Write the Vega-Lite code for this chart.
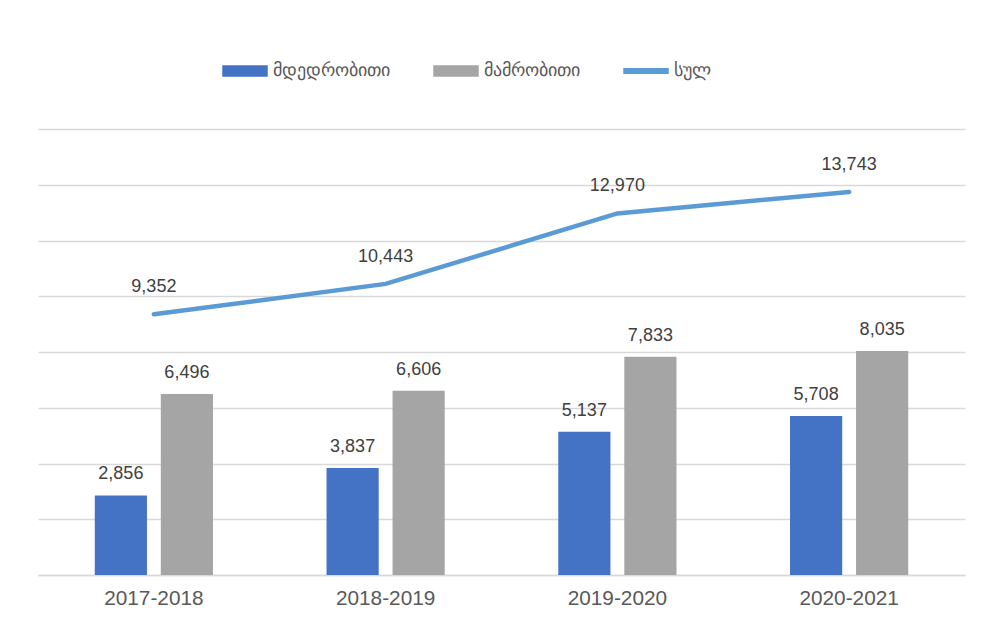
{
  "$schema": "https://vega.github.io/schema/vega-lite/v6.json",
  "width": 927,
  "height": 446,
  "autosize": "none",
  "padding": {"left": 38, "top": 129, "right": 17, "bottom": 62},
  "background": "white",
  "config": {
    "font": "Liberation Sans",
    "view": {"stroke": null},
    "axis": {"domainColor": "#d9d9d9", "gridColor": "#d9d9d9"}
  },
  "data": {
    "values": [
      {"year": "2017-2018", "series": "მდედრობითი", "value": 2856},
      {"year": "2017-2018", "series": "მამრობითი", "value": 6496},
      {"year": "2017-2018", "series": "სულ", "value": 9352},
      {"year": "2018-2019", "series": "მდედრობითი", "value": 3837},
      {"year": "2018-2019", "series": "მამრობითი", "value": 6606},
      {"year": "2018-2019", "series": "სულ", "value": 10443},
      {"year": "2019-2020", "series": "მდედრობითი", "value": 5137},
      {"year": "2019-2020", "series": "მამრობითი", "value": 7833},
      {"year": "2019-2020", "series": "სულ", "value": 12970},
      {"year": "2020-2021", "series": "მდედრობითი", "value": 5708},
      {"year": "2020-2021", "series": "მამრობითი", "value": 8035},
      {"year": "2020-2021", "series": "სულ", "value": 13743}
    ]
  },
  "encoding": {
    "x": {
      "field": "year",
      "type": "nominal",
      "title": null,
      "scale": {"paddingInner": 0.49, "paddingOuter": 0.245},
      "axis": {
        "labelAngle": 0,
        "ticks": false,
        "labelFontSize": 20.8,
        "labelColor": "#595959",
        "labelPadding": 13,
        "domainColor": "#d9d9d9",
        "domainWidth": 1.5
      }
    },
    "y": {
      "field": "value",
      "type": "quantitative",
      "title": null,
      "scale": {"domain": [0, 16000], "nice": false},
      "axis": {
        "labels": false,
        "ticks": false,
        "domain": false,
        "grid": true,
        "values": [0, 2000, 4000, 6000, 8000, 10000, 12000, 14000, 16000],
        "gridColor": "#d9d9d9",
        "gridWidth": 1.5
      }
    }
  },
  "layer": [
    {
      "transform": [{"filter": "datum.series !== 'სულ'"}],
      "mark": {"type": "bar"},
      "encoding": {
        "xOffset": {
          "field": "series",
          "type": "nominal",
          "sort": ["მდედრობითი", "მამრობითი"],
          "scale": {"paddingInner": 0.21, "paddingOuter": 0}
        },
        "color": {
          "field": "series",
          "type": "nominal",
          "scale": {
            "domain": ["მდედრობითი", "მამრობითი", "სულ"],
            "range": ["#4472C4", "#A5A5A5", "#5B9BD5"]
          },
          "legend": {
            "title": null,
            "orient": "none",
            "direction": "horizontal",
            "legendX": 184,
            "legendY": -81,
            "symbolType": "M-1,-0.25H1V0.25H-1Z",
            "symbolSize": 2070,
            "symbolStrokeWidth": 0,
            "labelFontSize": 18,
            "labelColor": "#595959",
            "labelOffset": 5,
            "columnPadding": 43,
            "labelLimit": 300,
            "encode": {
              "symbols": {
                "update": {
                  "shape": {"signal": "datum.value === 'სულ' ? 'M-1,-0.13H1V0.13H-1Z' : 'M-1,-0.25H1V0.25H-1Z'"},
                  "strokeWidth": {"value": 0}
                }
              }
            }
          }
        }
      }
    },
    {
      "transform": [{"filter": "datum.series !== 'სულ'"}],
      "mark": {"type": "text", "dy": -16, "baseline": "alphabetic", "fontSize": 18, "color": "#404040"},
      "encoding": {
        "xOffset": {
          "field": "series",
          "type": "nominal",
          "sort": ["მდედრობითი", "მამრობითი"],
          "scale": {"paddingInner": 0.21, "paddingOuter": 0}
        },
        "text": {"field": "value", "type": "quantitative", "format": ","}
      }
    },
    {
      "transform": [{"filter": "datum.series === 'სულ'"}],
      "mark": {"type": "line", "strokeWidth": 4.5, "strokeCap": "round"},
      "encoding": {
        "color": {"field": "series", "type": "nominal"}
      }
    },
    {
      "transform": [{"filter": "datum.series === 'სულ'"}],
      "mark": {"type": "text", "dy": -22, "baseline": "alphabetic", "fontSize": 18, "color": "#404040"},
      "encoding": {
        "text": {"field": "value", "type": "quantitative", "format": ","}
      }
    }
  ]
}
